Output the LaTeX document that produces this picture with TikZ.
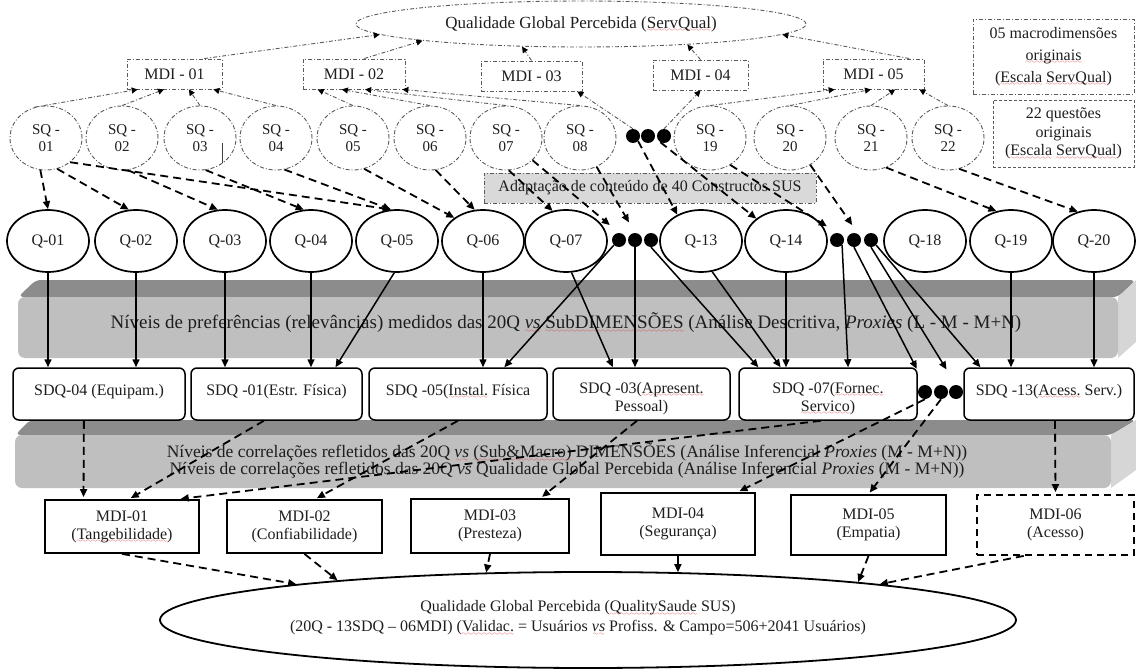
\documentclass[tikz,border=0pt]{standalone}
\usepackage{fontspec}
\setmainfont{Liberation Serif}
\usetikzlibrary{arrows.meta,calc,shapes.geometric}

\definecolor{spellred}{RGB}{220,40,40}
\definecolor{ink}{RGB}{30,30,30}
\definecolor{dashgray}{RGB}{90,90,90}
\definecolor{bandfront}{RGB}{191,191,191}
\definecolor{bandtop}{RGB}{140,140,140}
\definecolor{bandside}{RGB}{214,214,214}
\definecolor{adaptfill}{RGB}{217,217,217}

% red wavy underline of the spelling checker
\font\wavefont=lasy6
\newcommand\spl[1]{\leavevmode\setbox0\hbox{#1}\rlap{\lower3.5pt\hbox to \wd0{\color{spellred}\xleaders\hbox{\wavefont\char58}\hfil}}\box0\relax}

\newcommand\fs{\fontsize{16}{18}\selectfont}
\newcommand\topstrut{\rule{0pt}{20pt}}

\begin{document}
\begin{tikzpicture}[x=1pt,y=-1pt,
  every node/.style={font=\fs, text=ink},
  ddline/.style={draw=dashgray, line width=0.9pt, dash pattern=on 4pt off 2pt on 1pt off 2pt},
  ddarrow/.style={ddline, -{Triangle[length=6pt,width=6pt,color=black]}},
  dasharrow/.style={draw=black, line width=1.8pt, dash pattern=on 8pt off 5pt, -{Triangle[length=8pt,width=7pt]}},
  solidarrow/.style={draw=black, line width=1.5pt, -{Triangle[length=8pt,width=7pt]}},
  sqell/.style={ellipse, ddline, minimum width=72, minimum height=64, inner sep=0, align=center, font=\fontsize{15}{17}\selectfont},
  topbox/.style={rectangle, ddline, minimum height=30, inner sep=0},
  qell/.style={ellipse, draw=black, line width=1.7pt, minimum width=82, minimum height=62, inner sep=0},
  sdq/.style={rectangle, draw=black, fill=white, line width=1.5pt, rounded corners=6pt, minimum height=52, inner sep=2pt, align=center},
  mdibox/.style={rectangle, draw=black, fill=white, line width=1.8pt, inner sep=0, align=center},
  blackdot/.style={circle, fill=black, minimum size=14, inner sep=0},
]
\useasboundingbox (0,0) rectangle (1136,669);

% ---------- shaded bands ----------
\fill[bandtop, rounded corners=5pt] (18,297) -- (36,280) -- (1136,280) -- (1118,297) -- cycle;
\fill[bandside] (1118,297) -- (1136,280) -- (1136,342) -- (1118,358) -- cycle;
\fill[bandfront, rounded corners=7pt] (18,297) rectangle (1118,358);
\node[font=\fontsize{19}{21}\selectfont] (bandA) at (566,323) {Níveis de preferências (relevâncias) medidos das 20Q \textit{\spl{vs}} \spl{SubDIMENSÕES} (Análise Descritiva, \textit{Proxies} (L - M - M+N)};

\fill[bandtop, rounded corners=5pt] (15,435) -- (30,420) -- (1136,420) -- (1111,435) -- cycle;
\fill[bandside] (1111,435) -- (1136,420) -- (1136,470) -- (1111,488) -- cycle;
\fill[bandfront, rounded corners=7pt] (15,435) rectangle (1111,488);
\node[align=center, font=\fontsize{17.5}{15.5}\selectfont] (bandB) at (567,461) {Níveis de correlações refletidos das 20Q \textit{\spl{vs}} \spl{(Sub\&Macro)} DIMENSÕES (Análise Inferencial \textit{Proxies} (M - M+N))\\Níveis de correlações refletidos das 20Q \textit{vs} Qualidade Global Percebida (Análise Inferencial \textit{Proxies} (M - M+N))};

% ---------- original ServQual level ----------
\node[ellipse, ddline, minimum width=450, minimum height=46, inner sep=0, font=\fontsize{17}{19}\selectfont] (qg) at (581,24) {Qualidade Global Percebida (\spl{ServQual})};
\node[topbox, minimum width=95]  (m1) at (174.5,74) {MDI - 01};
\node[topbox, minimum width=102] (m2) at (354,74)   {MDI - 02};
\node[topbox, minimum width=101] (m3) at (531.5,76) {MDI - 03};
\node[topbox, minimum width=95]  (m4) at (700.5,75) {MDI - 04};
\node[topbox, minimum width=101] (m5) at (873.5,74) {MDI - 05};

\node[rectangle, ddline, minimum width=161, minimum height=75, inner sep=0, align=center, font=\fontsize{16}{22}\selectfont] (keyA) at (1053.5,56.5) {05 macrodimensões\\\spl{originais}\\(\spl{Escala} \spl{ServQual})};
\node[rectangle, draw=dashgray, line width=0.9pt, dash pattern=on 3pt off 2pt, minimum width=141, minimum height=67, inner sep=0, align=center, font=\fontsize{16}{18.5}\selectfont] (keyB) at (1063.5,133.5) {22 questões\\originais\\(\spl{Escala} \spl{ServQual})};

\node[sqell] (sq1)  at (46,138)  {SQ -\\01};
\node[sqell] (sq2)  at (122,138) {SQ -\\02};
\node[sqell] (sq3)  at (200,138) {SQ -\\03};
\node[sqell] (sq4)  at (276,138) {SQ -\\04};
\node[sqell] (sq5)  at (353,138) {SQ -\\05};
\node[sqell] (sq6)  at (430,138) {SQ -\\06};
\node[sqell] (sq7)  at (506,138) {SQ -\\07};
\node[sqell] (sq8)  at (580,138) {SQ -\\08};
\node[blackdot] (sd1) at (633,136) {};
\node[blackdot] (sd2) at (648,136) {};
\node[blackdot] (sd3) at (664,136) {};
\node[sqell] (sq19) at (710,138) {SQ -\\19};
\node[sqell] (sq20) at (790,138) {SQ -\\20};
\node[sqell] (sq21) at (871,138) {SQ -\\21};
\node[sqell] (sq22) at (948,138) {SQ -\\22};
\draw[line width=0.8pt, black!75] (222,143) -- (222,163);

\node[rectangle, ddline, fill=adaptfill, minimum width=332, minimum height=30, inner sep=0] (adapt) at (650,188) {Adaptação de conteúdo de 40 Constructos SUS};

% ---------- 20 questions ----------
\node[qell] (q1)  at (48,241)   {Q-01};
\node[qell] (q2)  at (136,241)  {Q-02};
\node[qell] (q3)  at (225,241)  {Q-03};
\node[qell] (q4)  at (311,241)  {Q-04};
\node[qell] (q5)  at (397,241)  {Q-05};
\node[qell] (q6)  at (483,241)  {Q-06};
\node[qell] (q7)  at (566,241)  {Q-07};
\node[blackdot] (qd1) at (619,240) {};
\node[blackdot] (qd2) at (635,240) {};
\node[blackdot] (qd3) at (651,240) {};
\node[qell] (q13) at (701,241)  {Q-13};
\node[qell] (q14) at (786,241)  {Q-14};
\node[blackdot] (qe1) at (837,240) {};
\node[blackdot] (qe2) at (854,240) {};
\node[blackdot] (qe3) at (871,240) {};
\node[qell] (q18) at (925,241)  {Q-18};
\node[qell] (q19) at (1011,241) {Q-19};
\node[qell] (q20) at (1094,241) {Q-20};

% ---------- sub-dimensions ----------
\node[sdq, minimum width=172] (s4)  at (99,394)    {\topstrut SDQ-04 (Equipam.)\\\mbox{}};
\node[sdq, minimum width=171] (s1)  at (276.5,394) {\topstrut SDQ -01(Estr. Física)\\\mbox{}};
\node[sdq, minimum width=178] (s5)  at (458,394)   {\topstrut SDQ -05(\spl{Instal.} Física\\\mbox{}};
\node[sdq, minimum width=177] (s3)  at (641.5,394) {\topstrut SDQ -03(\spl{Apresent.}\\Pessoal)};
\node[sdq, minimum width=178] (s7)  at (828,394)   {\topstrut SDQ -07(\spl{Fornec.}\\\spl{Servico})};
\node[blackdot] (sdd1) at (925,392) {};
\node[blackdot] (sdd2) at (941,392) {};
\node[blackdot] (sdd3) at (956,392) {};
\node[sdq, minimum width=170] (s13) at (1049,394)  {\topstrut SDQ -13(\spl{Acess.} Serv.)\\\mbox{}};

% ---------- macro-dimensions ----------
\node[mdibox, minimum width=154, minimum height=53] (b1) at (122,526.5)   {MDI-01\\(\spl{Tangebilidade})};
\node[mdibox, minimum width=155, minimum height=53] (b2) at (304.5,526.5) {MDI-02\\(Confiabilidade)};
\node[mdibox, minimum width=158, minimum height=54] (b3) at (490,526)     {MDI-03\\(Presteza)};
\node[mdibox, minimum width=154, minimum height=62] (b4) at (678,524)     {MDI-04\\(Segurança)};
\node[mdibox, minimum width=155, minimum height=60] (b5) at (868.5,525)   {MDI-05\\(Empatia)};
\node[mdibox, dash pattern=on 7pt off 5pt, minimum width=157, minimum height=60] (b6) at (1055.5,525) {MDI-06\\(Acesso)};

\node[ellipse, draw=black, line width=1.8pt, minimum width=856, minimum height=96, inner sep=0,
  label={[name=qstxt, align=center, xshift=-10pt, yshift=2pt, font=\fontsize{16}{20}\selectfont]center:{Qualidade Global Percebida (\spl{QualitySaude} SUS)\\(20Q - 13SDQ – 06MDI) (\spl{Validac.} = Usuários \textit{\spl{vs}} Profiss. \& Campo=506+2041 Usuários)}}] (qs) at (588,620) {};

% ---------- upper dash-dot links ----------
\draw[ddarrow] ($(m1.north west)!0.81!(m1.north east)$) -- (qg.183);
\draw[ddarrow] ($(m2.north west)!0.6!(m2.north east)$) -- (qg.186.8);
\draw[ddarrow] (m3.north) -- (qg.201.7);
\draw[ddarrow] (m4.north) -- (qg.349.6);
\draw[ddarrow] ($(m5.north west)!0.85!(m5.north east)$) -- (qg.357.2);

\draw[ddarrow] (sq1.110) -- ($(m1.south west)!0.116!(m1.south east)$);
\draw[ddarrow] (sq2.north) -- ($(m1.south west)!0.39!(m1.south east)$);
\draw[ddarrow] (sq3.north) -- ($(m1.south west)!0.65!(m1.south east)$);
\draw[ddarrow] (sq4.north) -- ($(m1.south west)!0.905!(m1.south east)$);
\draw[ddarrow] (sq5.north) -- ($(m2.south west)!0.147!(m2.south east)$);
\draw[ddarrow] (sq6.north) -- ($(m2.south west)!0.382!(m2.south east)$);
\draw[ddarrow] (sq7.north) -- ($(m2.south west)!0.608!(m2.south east)$);
\draw[ddarrow] (sq8.north) -- ($(m2.south west)!0.97!(m2.south east)$);
\draw[ddarrow] (sd1.north) -- ($(m3.south west)!0.95!(m3.south east)$);
\draw[ddarrow] (sd3.north) -- (m4.south);
\draw[ddarrow] (sq19.north) -- ($(m5.south west)!0.119!(m5.south east)$);
\draw[ddarrow] (sq20.north) -- ($(m5.south west)!0.475!(m5.south east)$);
\draw[ddarrow] (sq21.north) -- ($(m5.south west)!0.713!(m5.south east)$);
\draw[ddarrow] (sq22.north) -- ($(m5.south west)!0.95!(m5.south east)$);

% ---------- content adaptation SQ -> Q ----------
\draw[dasharrow] (sq1.260) -- (q1.north);
\draw[dasharrow] (sq1.290) -- (q2.103);
\draw[dasharrow] (sq1.315) -- (q5.101);
\draw[dasharrow] (sq2.280) -- (q3.103);
\draw[dasharrow] (sq3.280) -- (q4.103);
\draw[dasharrow] (sq4.285) -- (q5.101);
\draw[dasharrow] (sq5.290) -- (q6.141);
\draw[dasharrow] (sq6.280) -- (q6.105);
\draw[dasharrow] (sq7.275) -- (q7.114);
\draw[dasharrow, shorten >=12pt] (sq7.320) -- (qd1.north);
\draw[dasharrow, shorten >=12pt] (sq8.300) -- (qd2.north);
\draw[dasharrow] (sd1.-45) -- (q13.132);
\draw[dasharrow] (sd3.-120) -- (q14.143);
\draw[dasharrow, shorten >=12pt] (sq19.307) -- (qe1.north);
\draw[dasharrow, shorten >=12pt] (sq20.307) -- (qe2.north east);
\draw[dasharrow] (sq21.297) -- (q19.116);
\draw[dasharrow] (sq22.290) -- (q20.119);

% ---------- Q -> SDQ ----------
\draw[solidarrow] (q1.south) -- (q1.south |- s4.north);
\draw[solidarrow] (q2.south) -- (q2.south |- s4.north);
\draw[solidarrow] (q3.south) -- (q3.south |- s1.north);
\draw[solidarrow] (q4.south) -- (q4.south |- s1.north);
\draw[solidarrow] (q5.265) -- ($(s1.north west)!0.842!(s1.north east)$);
\draw[solidarrow] (q6.south) -- (q6.south |- s5.north);
\draw[solidarrow] (qd1.south west) -- ($(s5.north west)!0.758!(s5.north east)$);
\draw[solidarrow] (q7.280) -- ($(s3.north west)!0.339!(s3.north east)$);
\draw[solidarrow] (qd2.south) -- (qd2.south |- s3.north);
\draw[solidarrow] (qd3.south) -- ($(s7.north west)!0.112!(s7.north east)$);
\draw[solidarrow] (q13.290) -- ($(s7.north west)!0.236!(s7.north east)$);
\draw[solidarrow] (q14.south) -- (q14.south |- s7.north);
\draw[solidarrow] (qe1.south east) -- ($(s7.north west)!0.612!(s7.north east)$);
\draw[solidarrow, shorten >=18pt] (qe2.south) -- (sdd1.north);
\draw[solidarrow, shorten >=18pt] (qe3.south) -- (sdd3.north);
\draw[solidarrow] (qe3.south east) -- ($(s13.north west)!0.1!(s13.north east)$);
\draw[solidarrow] (q19.south) -- (q19.south |- s13.north);
\draw[solidarrow] (q20.south) -- (q20.south |- s13.north);

% ---------- SDQ -> MDI ----------
\draw[dasharrow, shorten >=2pt] ($(s4.south west)!0.413!(s4.south east)$) -- ($(b1.north west)!0.253!(b1.north east)$);
\draw[dasharrow, shorten >=2pt] ($(s1.south west)!0.427!(s1.south east)$) -- ($(b1.north west)!0.545!(b1.north east)$);
\draw[dasharrow, shorten >=2pt] ($(s7.south west)!0.46!(s7.south east)$) -- ($(b1.north west)!0.864!(b1.north east)$);
\draw[dasharrow, shorten >=2pt] (s5.south) -- ($(b2.north west)!0.568!(b2.north east)$);
\draw[dasharrow, shorten >=2pt] ($(s3.south west)!0.475!(s3.south east)$) -- ($(b3.north west)!0.816!(b3.north east)$);
\draw[dasharrow, shorten >=2pt] (sdd1.south) -- ($(b4.north west)!0.883!(b4.north east)$);
\draw[dasharrow, shorten >=2pt] (sdd2.south) -- (b5.north);
\draw[dasharrow, shorten >=2pt] ($(s13.south west)!0.535!(s13.south east)$) -- (b6.north);

% ---------- MDI -> overall perceived quality ----------
\draw[dasharrow] (b1.south) -- (qs.173.2);
\draw[dasharrow] (b2.south) -- (qs.171.5);
\draw[dasharrow] (b3.south) -- (qs.155.2);
\draw[dasharrow] (b4.south) -- (qs.28.9);
\draw[dasharrow] (b5.south) -- (qs.8.9);
\draw[dasharrow] ($(b6.south west)!0.3!(b6.south east)$) -- (qs.7.2);
\end{tikzpicture}
\end{document}
